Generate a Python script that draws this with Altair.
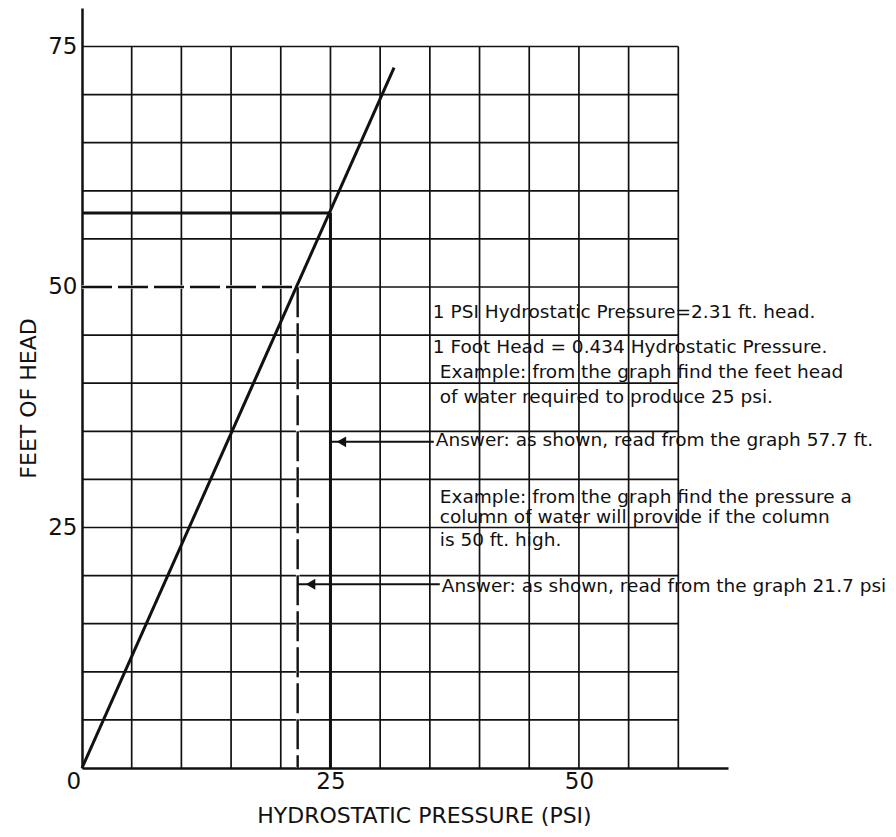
import altair as alt
import pandas as pd

# ---------------- data ----------------
# grid lines (psi / ft)
grid_psi = [5, 10, 15, 20, 25, 30, 35, 40, 45, 50, 55, 60]
grid_ft = [5, 10, 15, 20, 25, 30, 35, 40, 45, 50, 55, 60, 65, 70, 75]
grid_psi_max = 60
grid_ft_max = 75

# main relation line: 1 psi = 2.31 ft head
line_psi = [0, 31.4]
line_ft = [0, 72.8]

# example 1: 25 psi -> 57.7 ft
ex1_psi = 25
ex1_ft = 57.7

# example 2: 50 ft -> 21.7 psi (dashed)
ex2_path_psi = [0, 21.7, 21.7]
ex2_path_ft = [50, 50, 0]
ex2_order = [0, 1, 2]

# answer arrows
arrow_y = [33.9, 19.1]
arrow_from = [25, 21.7]
arrow_to = [35.4, 36.0]
arrow_head = [26.1, 23.0]

# annotation texts
note_text = [
    "1 PSI  Hydrostatic Pressure=2.31 ft. head.",
    "1 Foot Head = 0.434 Hydrostatic Pressure.",
    "Example: from the graph find the feet head",
    "of water required to produce  25 psi.",
    "Answer: as shown, read from the graph 57.7 ft.",
    "Example: from the graph find the pressure a",
    "column of water will provide if the column",
    "is 50 ft. high.",
    "Answer: as shown, read from the graph 21.7 psi",
]
note_psi = [35.3, 35.3, 36.0, 36.0, 35.6, 36.0, 36.0, 36.0, 36.2]
note_ft = [47.4, 43.8, 41.2, 38.6, 34.1, 28.2, 26.1, 23.7, 18.9]

x_ticks = [0, 25, 50]
y_ticks = [25, 50, 75]

FONT = "DejaVu Sans"
INK = "#111111"

xs = alt.Scale(domain=[0, 65], nice=False, zero=True)
ys = alt.Scale(domain=[0, 79], nice=False, zero=True)

x_axis = alt.Axis(
    values=x_ticks, grid=False, ticks=False, tickSize=0,
    domainColor=INK, domainWidth=2.5,
    labelFont=FONT, labelFontSize=23, labelColor=INK, labelPadding=2,
    labelOffset={"condition": {"test": "datum.value === 0", "value": -16}, "value": 0},
    title="HYDROSTATIC PRESSURE (PSI)", titleFont=FONT, titleFontSize=22,
    titleFontWeight="normal", titleColor=INK, titleX=342, titleY=54,
    titleAlign="center", titleBaseline="alphabetic",
)
y_axis = alt.Axis(
    values=y_ticks, grid=False, ticks=False, tickSize=0,
    domainColor=INK, domainWidth=2.5,
    labelFont=FONT, labelFontSize=23, labelColor=INK, labelPadding=5,
    title="FEET OF HEAD", titleFont=FONT, titleFontSize=22,
    titleFontWeight="normal", titleColor=INK, titleX=-54, titleY=390,
    titleAngle=270, titleAlign="center", titleBaseline="middle",
)

# vertical grid lines
vgrid_df = pd.DataFrame({"psi": grid_psi, "y0": [0] * len(grid_psi),
                         "y1": [grid_ft_max] * len(grid_psi)})
vgrid = alt.Chart(vgrid_df).mark_rule(color=INK, strokeWidth=1.7).encode(
    x=alt.X("psi:Q", scale=xs, axis=x_axis),
    y=alt.Y("y0:Q", scale=ys, axis=y_axis),
    y2="y1:Q",
)

hgrid_df = pd.DataFrame({"ft": grid_ft, "x0": [0] * len(grid_ft),
                         "x1": [grid_psi_max] * len(grid_ft)})
hgrid = alt.Chart(hgrid_df).mark_rule(color=INK, strokeWidth=1.7).encode(
    y=alt.Y("ft:Q", scale=ys),
    x=alt.X("x0:Q", scale=xs),
    x2="x1:Q",
)

# example 1 thick lines
ex1_h = alt.Chart(pd.DataFrame({"a": [0], "b": [ex1_psi], "y": [ex1_ft]})).mark_rule(
    color=INK, strokeWidth=3).encode(
    x=alt.X("a:Q", scale=xs), x2="b:Q", y=alt.Y("y:Q", scale=ys))
ex1_v = alt.Chart(pd.DataFrame({"x": [ex1_psi], "a": [0], "b": [ex1_ft]})).mark_rule(
    color=INK, strokeWidth=3).encode(
    x=alt.X("x:Q", scale=xs), y=alt.Y("a:Q", scale=ys), y2="b:Q")

# example 2 dashed path
ex2_df = pd.DataFrame({"psi": ex2_path_psi, "ft": ex2_path_ft, "o": ex2_order})
ex2_under = alt.Chart(ex2_df).mark_line(color="white", strokeWidth=3.5).encode(
    x=alt.X("psi:Q", scale=xs), y=alt.Y("ft:Q", scale=ys), order="o:Q")
ex2_dash = alt.Chart(ex2_df).mark_line(color=INK, strokeWidth=2.4,
                                       strokeDash=[30, 6]).encode(
    x=alt.X("psi:Q", scale=xs), y=alt.Y("ft:Q", scale=ys), order="o:Q")

# main line
main_df = pd.DataFrame({"psi": line_psi, "ft": line_ft})
main = alt.Chart(main_df).mark_line(color=INK, strokeWidth=3).encode(
    x=alt.X("psi:Q", scale=xs), y=alt.Y("ft:Q", scale=ys))

# arrows
arr_df = pd.DataFrame({"y": arrow_y, "a": arrow_from, "b": arrow_to, "h": arrow_head})
arr_line = alt.Chart(arr_df).mark_rule(color=INK, strokeWidth=2).encode(
    x=alt.X("a:Q", scale=xs), x2="b:Q", y=alt.Y("y:Q", scale=ys))
arr_head = alt.Chart(arr_df).mark_point(shape="triangle-left", filled=True,
                                        color=INK, size=120, opacity=1).encode(
    x=alt.X("h:Q", scale=xs), y=alt.Y("y:Q", scale=ys))

# notes
note_df = pd.DataFrame({"t": note_text, "psi": note_psi, "ft": note_ft})
notes = alt.Chart(note_df).mark_text(align="left", baseline="middle", font=FONT,
                                     fontSize=18.5, color=INK).encode(
    x=alt.X("psi:Q", scale=xs), y=alt.Y("ft:Q", scale=ys), text="t:N")

chart = alt.layer(
    vgrid, hgrid, ex1_h, ex1_v, ex2_under, ex2_dash, main, arr_line, arr_head, notes
).properties(
    width=646, height=760,
    autosize=alt.AutoSizeParams(type="none"),
    padding={"left": 74, "top": 0, "right": 160, "bottom": 60},
    background="white",
).configure_view(stroke=None)

chart.save("out.html", embed_options={"renderer": "svg", "actions": False})
